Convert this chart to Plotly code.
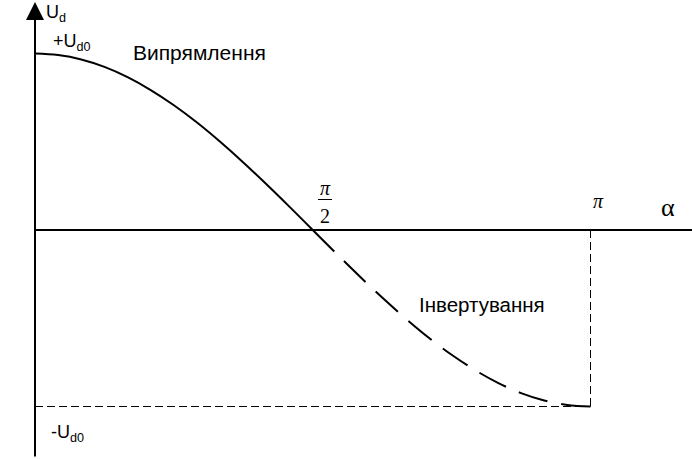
import numpy as np
import plotly.graph_objects as go

# Data (alpha in radians, Ud in units of Ud0)
alpha_rect = [0.0, 0.1309, 0.2618, 0.3927, 0.5236, 0.6545, 0.7854, 0.9163, 1.0472, 1.1781, 1.3090, 1.4399, 1.5708]
ud_rect = [1.000, 0.991, 0.966, 0.924, 0.866, 0.793, 0.707, 0.609, 0.500, 0.383, 0.259, 0.131, 0.000]
alpha_inv = [1.5708, 1.7017, 1.8326, 1.9635, 2.0944, 2.2253, 2.3562, 2.4871, 2.6180, 2.7489, 2.8798, 3.0107, 3.1416]
ud_inv = [0.000, -0.131, -0.259, -0.383, -0.500, -0.609, -0.707, -0.793, -0.866, -0.924, -0.966, -0.991, -1.000]
ud0_pos = 1.0
ud0_neg = -1.0
alpha_pi = 3.1416
alpha_half = 1.5708

W, H = 692, 459
x0px, xpipx = 35, 590.5
y0px, yamp = 230, 176.5
sx = (xpipx - x0px) / np.pi
xr = [-x0px / sx, (W - x0px) / sx]
yr = [-(H - y0px) / yamp, y0px / yamp]

def px2x(p):
    return (p - x0px) / sx

def py2y(p):
    return (y0px - p) / yamp

fig = go.Figure()
fig.add_trace(go.Scatter(x=alpha_rect, y=ud_rect, mode="lines",
                         line=dict(color="black", width=2, shape="spline"),
                         hoverinfo="skip", showlegend=False))
fig.add_trace(go.Scatter(x=alpha_inv, y=ud_inv, mode="lines",
                         line=dict(color="black", width=2, shape="spline", dash="30px,14px"),
                         hoverinfo="skip", showlegend=False))

shapes = [
    # horizontal axis
    dict(type="line", xref="x", yref="y", x0=0, x1=xr[1], y0=0, y1=0,
         line=dict(color="black", width=2)),
    # dashed helper lines
    dict(type="line", xref="x", yref="y", x0=0, x1=alpha_pi, y0=ud0_neg, y1=ud0_neg,
         line=dict(color="black", width=1, dash="8px,4px")),
    dict(type="line", xref="x", yref="y", x0=alpha_pi, x1=alpha_pi, y0=0, y1=ud0_neg,
         line=dict(color="black", width=1, dash="8px,4px")),
    # fraction bar of pi/2
    dict(type="line", xref="x", yref="y", x0=px2x(318), x1=px2x(332), y0=py2y(199.5), y1=py2y(199.5),
         line=dict(color="black", width=1)),
]

SUB = "<sub style='font-size:14px'>{}</sub>"

annotations = [
    # vertical axis with arrow
    dict(x=0, y=py2y(2), ax=0, ay=py2y(458), xref="x", yref="y", axref="x", ayref="y",
         showarrow=True, arrowhead=2, arrowsize=1.8, arrowwidth=2, arrowcolor="black", text=""),
    dict(x=px2x(44), y=py2y(13), xref="x", yref="y", text="U" + SUB.format("d"), showarrow=False,
         xanchor="left", font=dict(family="Liberation Sans", size=18, color="black")),
    dict(x=px2x(51), y=py2y(42), xref="x", yref="y", text="+U" + SUB.format("d0"), showarrow=False,
         xanchor="left", font=dict(family="Liberation Sans", size=18, color="black")),
    dict(x=px2x(131), y=py2y(52), xref="x", yref="y", text="Випрямлення", showarrow=False,
         xanchor="left", font=dict(family="Liberation Sans", size=21, color="black")),
    dict(x=px2x(417), y=py2y(304), xref="x", yref="y", text="Інвертування", showarrow=False,
         xanchor="left", font=dict(family="Liberation Sans", size=20.5, color="black")),
    dict(x=alpha_half + px2x(325) - px2x(312.5), y=py2y(188), xref="x", yref="y", text="<i>π</i>", showarrow=False,
         font=dict(family="Liberation Serif", size=20, color="black")),
    dict(x=alpha_half + px2x(325) - px2x(312.5), y=py2y(216), xref="x", yref="y", text="2", showarrow=False,
         font=dict(family="Liberation Serif", size=20, color="black")),
    dict(x=alpha_pi + px2x(598) - px2x(590.5), y=py2y(201), xref="x", yref="y", text="<i>π</i>", showarrow=False,
         font=dict(family="Liberation Serif", size=20, color="black")),
    dict(x=px2x(668), y=py2y(207), xref="x", yref="y", text="α", showarrow=False,
         font=dict(family="Liberation Serif", size=26, color="black")),
    dict(x=px2x(49), y=py2y(433), xref="x", yref="y", text="-U" + SUB.format("d0"), showarrow=False,
         xanchor="left", font=dict(family="Liberation Sans", size=18, color="black")),
]

fig.update_layout(
    width=W, height=H,
    margin=dict(l=0, r=0, t=0, b=0),
    paper_bgcolor="white", plot_bgcolor="white",
    xaxis=dict(range=xr, visible=False, fixedrange=True),
    yaxis=dict(range=yr, visible=False, fixedrange=True),
    shapes=shapes, annotations=annotations, showlegend=False,
)
fig.write_html("out.html", config={"displayModeBar": False},
               post_script="document.body.style.margin='0';document.body.style.overflow='hidden';")
